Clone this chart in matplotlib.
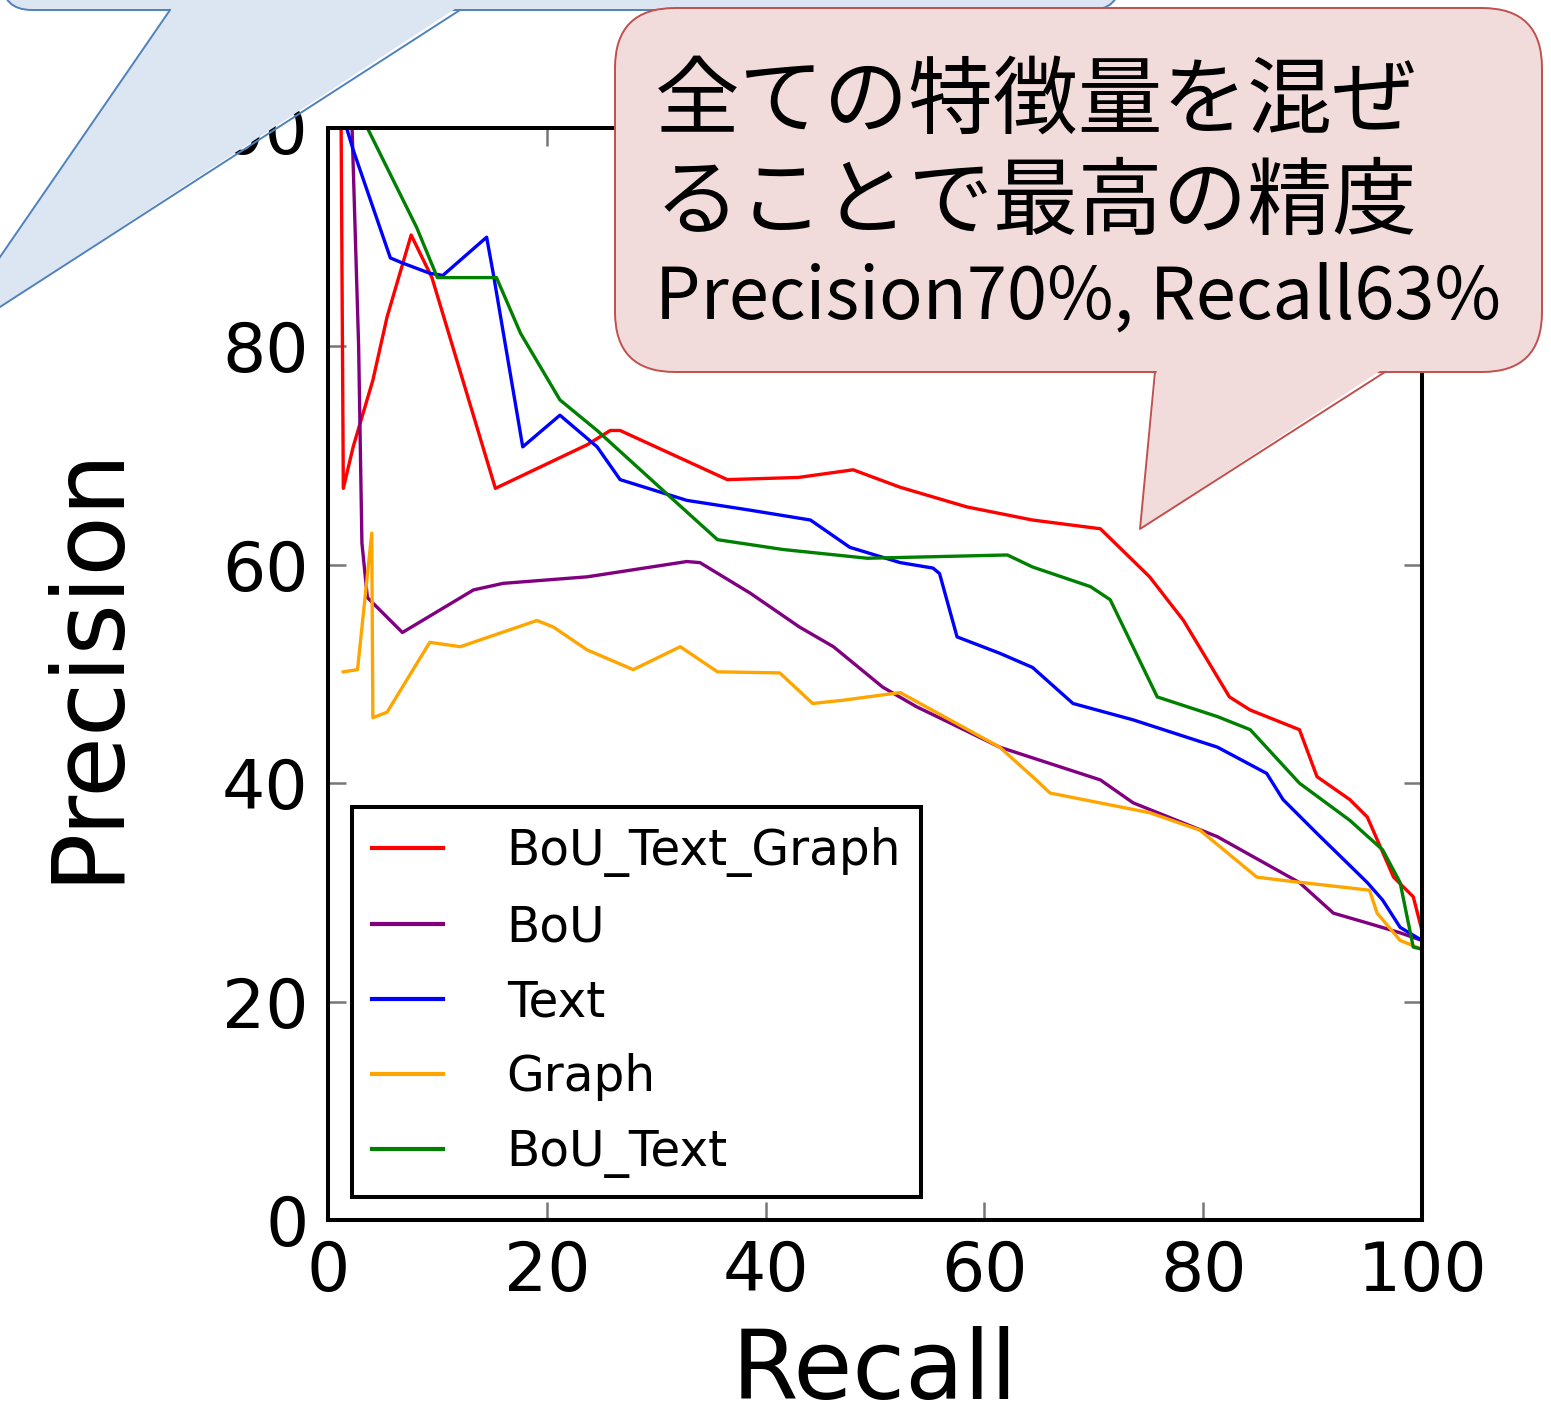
"""
Precision-Recall-Kurven mit Sprechblasen (Nachbau einer Folie)
"""

import matplotlib
matplotlib.use('Agg')
import matplotlib.pyplot as plt
from matplotlib.patches import FancyBboxPatch, Polygon

# Daten
labels = ['BoU_Text_Graph', 'BoU', 'Text', 'Graph', 'BoU_Text']
colors = ['red', 'purple', 'blue', 'orange', 'green']

recall_bou_text_graph = [1.2, 1.4, 2.3, 4.1, 5.4, 7.6, 9.5, 15.3, 23.7, 25.8, 26.7, 36.5, 43.0,
                         48.0, 52.3, 58.4, 64.4, 70.6, 75.1, 78.2, 82.4, 84.3, 88.8, 90.4, 93.4,
                         95.0, 97.4, 99.2, 100]
prec_bou_text_graph = [100, 67, 70.8, 76.9, 82.7, 90.2, 86.3, 67, 71, 72.3, 72.3, 67.8, 68.0,
                       68.7, 67.1, 65.3, 64.1, 63.3, 58.9, 54.9, 47.9, 46.7, 44.9, 40.6, 38.5,
                       36.9, 31.4, 29.6, 26.5]

recall_bou = [2.2, 2.8, 3.1, 3.6, 6.8, 13.3, 16.0, 23.7, 32.8, 34.0, 38.6, 43.1, 46.2, 50.7,
              53.8, 56.9, 61.4, 66.0, 70.6, 73.6, 81.3, 88.8, 91.9, 95.0, 98.0, 100]
prec_bou = [100, 80, 62, 57, 53.8, 57.7, 58.3, 58.9, 60.3, 60.2, 57.4, 54.3, 52.5, 48.8,
            47.0, 45.5, 43.3, 41.8, 40.3, 38.2, 35.1, 30.9, 28.1, 27.2, 26.3, 25.6]

recall_text = [1.7, 2.3, 5.7, 6.9, 9.3, 10.5, 14.5, 15.1, 17.8, 21.2, 24.6, 26.7, 32.8, 38.6,
               44.1, 47.7, 52.3, 55.3, 55.9, 57.5, 61.4, 64.4, 68.1, 73.6, 81.3, 85.8, 87.3,
               90.4, 95.0, 96.4, 98.0, 100]
prec_text = [100, 98, 88.1, 87.6, 86.7, 86.5, 90.0, 86.7, 70.8, 73.7, 70.8, 67.8, 65.9, 65.0,
             64.1, 61.6, 60.2, 59.7, 59.2, 53.4, 51.9, 50.6, 47.3, 45.8, 43.3, 40.9, 38.5,
             35.4, 30.9, 29.3, 26.8, 25.6]

recall_graph = [1.4, 2.7, 4.0, 4.1, 5.4, 9.3, 12.1, 19.1, 20.6, 23.7, 27.9, 32.2, 35.6, 41.3,
                44.3, 47.1, 52.3, 61.4, 64.4, 66.0, 75.1, 79.7, 84.9, 87.3, 95.2, 95.9, 98.0, 100]
prec_graph = [50.2, 50.4, 62.9, 46.0, 46.5, 52.9, 52.5, 54.9, 54.3, 52.2, 50.4, 52.5, 50.2, 50.1,
              47.3, 47.6, 48.3, 43.3, 40.6, 39.1, 37.3, 35.7, 31.4, 31.1, 30.2, 28.1, 25.6, 24.8]

recall_bou_text = [3.6, 8.1, 10.0, 15.4, 17.6, 21.2, 24.6, 31.3, 35.6, 41.6, 49.3, 62.1, 64.4,
                   69.7, 71.5, 75.8, 81.3, 84.3, 88.8, 93.4, 96.4, 98.0, 99.2, 100]
prec_bou_text = [100, 90.9, 86.3, 86.3, 81.2, 75.1, 72.3, 66.2, 62.3, 61.4, 60.6, 60.9, 59.8,
                 58.0, 56.8, 47.9, 46.1, 44.9, 40.0, 36.6, 33.9, 30.9, 25.0, 24.8]

ticks = [0, 20, 40, 60, 80, 100]

callout_jp = ['全ての特徴量を混ぜ', 'ることで最高の精度']
callout_en = 'Precision70%, Recall63%'

W, H = 1551, 1403
fig = plt.figure(figsize=(W / 100, H / 100), dpi=100)
ax = fig.add_axes([328 / W, 1 - 1220 / H, 1094 / W, 1092 / H])

series = [
    (recall_bou_text_graph, prec_bou_text_graph),
    (recall_bou, prec_bou),
    (recall_text, prec_text),
    (recall_graph, prec_graph),
    (recall_bou_text, prec_bou_text),
]
for (rx, py), lab, col in zip(series, labels, colors):
    ax.plot(rx, py, color=col, lw=2.4, label=lab)

ax.set_xlim(0, 100)
ax.set_ylim(0, 100)
ax.set_xticks(ticks)
ax.set_yticks(ticks)
ax.tick_params(direction='in', length=13, width=1.8, color='#777777',
               top=True, right=True, labelsize=49, pad=14)
for sp in ax.spines.values():
    sp.set_linewidth(2.9)

ax.set_xlabel('Recall', fontsize=69)
ax.set_ylabel('Precision', fontsize=71)
ax.xaxis.set_label_coords(0.5, -0.097)
ax.yaxis.set_label_coords(-0.175, 0.51)

leg = ax.legend(loc='lower left', bbox_to_anchor=(0.022, 0.021), borderaxespad=0,
                fontsize=35, fancybox=False, framealpha=1, handlelength=1.48,
                handletextpad=1.3, labelspacing=0.55, borderpad=0.4)
leg.get_frame().set_edgecolor('black')
leg.get_frame().set_linewidth(2.9)
for ln in leg.get_lines():
    ln.set_linewidth(3)

# Overlay in Pixelkoordinaten für die Sprechblasen
ov = fig.add_axes([0, 0, 1, 1], zorder=5)
ov.set_xlim(0, W)
ov.set_ylim(H, 0)
ov.axis('off')

# blaue Sprechblase oben links
blue_face, blue_edge = '#DCE6F2', '#4F81BD'
ov.add_patch(FancyBboxPatch((2, -300), 1118, 310, boxstyle='round,pad=0,rounding_size=30',
                            fc=blue_face, ec=blue_edge, lw=1.4))
ov.add_patch(Polygon([(172, 7), (-62, 347), (458, 7)], closed=True, fc=blue_face, ec='none'))
ov.plot([170, -62, 460], [10, 347, 10], color=blue_edge, lw=1.4)

# rosa Sprechblase oben rechts
pink_face, pink_edge = '#F2DCDB', '#C0504D'
ov.add_patch(FancyBboxPatch((615, 8), 927, 364, boxstyle='round,pad=0,rounding_size=60',
                            fc=pink_face, ec=pink_edge, lw=1.4))
ov.add_patch(Polygon([(1157, 369), (1140, 529), (1383, 369)], closed=True, fc=pink_face, ec='none'))
ov.plot([1155, 1140, 1385], [372, 529, 372], color=pink_edge, lw=1.4)

jp_font = ['Noto Sans CJK JP', 'DejaVu Sans']
ov.text(655, 102, callout_jp[0], fontsize=61, family=jp_font, ha='left', va='center')
ov.text(655, 204, callout_jp[1], fontsize=61, family=jp_font, ha='left', va='center')
ov.text(655, 298, callout_en, fontsize=52, family=jp_font, ha='left', va='center')

fig.savefig('out.png', dpi=100)
